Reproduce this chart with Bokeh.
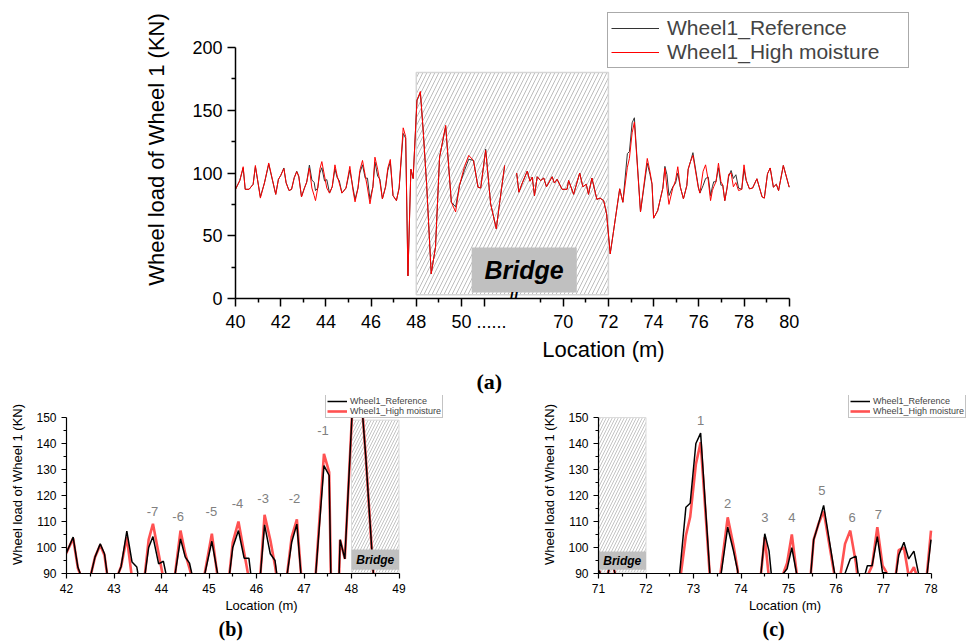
import numpy as np
from bokeh.plotting import figure
from bokeh.models import (Range1d, FixedTicker, CustomJSTickFormatter, Legend,
                          LegendItem, Label, Title)
from bokeh.layouts import column, row
from bokeh.embed import file_html
from bokeh.resources import INLINE

NAN = float("nan")

# ---------------- data (location in m, wheel load in kN) ----------------
location = [40.00, 40.19, 40.34, 40.43, 40.60, 40.78, 40.88, 41.10, 41.28, 41.47,
            41.78, 41.90, 42.00, 42.14, 42.24, 42.37, 42.48, 42.60, 42.71, 42.80,
            42.92, 43.05, 43.15, 43.27, 43.38, 43.48, 43.54, 43.64, 43.73, 43.82,
            43.94, 44.04, 44.16, 44.28, 44.40, 44.50, 44.59, 44.71, 44.89, 45.06,
            45.20, 45.29, 45.42, 45.50, 45.62, 45.74, 45.84, 45.95, 46.08, 46.17,
            46.29, 46.39, 46.50, 46.64, 46.74, 46.85, 46.97, 47.12, 47.24, 47.42,
            47.53, 47.63, 47.76, 47.86, 48.03, 48.18, 48.30, 48.46, 48.66, 48.85,
            49.03, 49.30, 49.55, 49.74, 49.91, 50.13, 50.32, 50.53, 50.73, 50.85,
            51.07, 51.29, 51.54, 51.70, 51.91, 60.00,
            67.94, 68.04, 68.19, 68.41, 68.53, 68.63, 68.73, 68.85, 69.00, 69.14,
            69.26, 69.51, 69.61, 69.73, 69.95, 70.17, 70.24, 70.46, 70.73, 70.87,
            71.02, 71.12, 71.27, 71.49, 71.63, 71.79, 71.92, 72.08, 72.21, 72.50,
            72.64, 72.84, 72.93, 73.05, 73.15, 73.42, 73.72, 73.84, 73.93, 74.00,
            74.18, 74.41, 74.50, 74.59, 74.68, 74.85, 74.97, 75.07, 75.18, 75.32,
            75.47, 75.53, 75.63, 75.74, 75.98, 76.05, 76.19, 76.30, 76.42, 76.52,
            76.60, 76.66, 76.76, 76.87, 76.98, 77.06, 77.15, 77.25, 77.32, 77.43,
            77.53, 77.64, 77.76, 77.90, 78.00, 78.10, 78.24, 78.38, 78.57, 78.80,
            78.90, 79.04, 79.16, 79.30, 79.43, 79.53, 79.74, 80.00]

wheel1_reference = [87, 94, 104, 87, 87, 91, 105, 81, 92, 107,
                    83, 95, 98, 104, 92.4, 86, 87, 96.3, 101.4, 97.6,
                    81, 88, 92.7, 106.3, 94.4, 92.5, 86, 88, 100, 104.2,
                    93.7, 94.7, 84, 89, 103.3, 96.3, 94, 84, 88, 102.4,
                    88, 79, 88, 100, 106.5, 95.9, 95.9, 79, 89, 108.7,
                    97.6, 95, 79.4, 89, 102, 109, 82, 78, 88, 131.5,
                    127.7, 18, 103, 95.6, 158, 164, 135, 90, 19.7, 41,
                    112.6, 137, 76.8, 73, 90, 102, 111, 110, 88.7, 88,
                    119, 75.4, 55.5, 78, 106, NAN,
                    100, 84.7, 92, 101.5, 93.5, 96.7, 82, 97, 94, 96,
                    89, 97, 92, 95, 87, 87, 94, 83, 100, 89,
                    91, 83, 96, 79, 80, 78, 67.5, 35.6, 51.5, 87.4,
                    76.7, 115.5, 117, 140, 144, 69, 107.8, 98.8, 91, 64,
                    70, 88, 105.3, 98.7, 82, 89, 91.8, 99.9, 89, 79.4,
                    90, 103, 109, 116.2, 89, 84, 90, 95.6, 96.7, 82,
                    89, 93, 93, 104.2, 90.3, 90.3, 78, 88, 97, 102,
                    95.6, 98.6, 88, 87, 103, 94, 87.4, 88, 95.4, 81,
                    80, 99.4, 104, 88.7, 91, 86, 106, 88.7]

wheel1_high_moisture = [87, 94, 105, 87, 87, 91, 106, 80, 92, 108,
                        83, 95, 98, 103.5, 92, 86, 87, 96.3, 101, 97,
                        81, 88, 92.7, 104, 88, 82, 78, 88, 103, 109.1,
                        97.6, 88, 84, 89, 106.5, 97.6, 92, 84, 88, 105.3,
                        86, 77, 88, 102, 110, 98, 88, 75.4, 89, 112.6,
                        103, 93, 79.4, 89, 104, 110.8, 82, 78, 88, 136,
                        129, 18, 103, 95.6, 158, 165, 135, 90, 19.7, 41,
                        112.6, 138, 76.8, 69, 90, 105, 114, 110, 88.7, 88,
                        118, 75.4, 55.5, 78, 106, NAN,
                        100, 84.7, 92, 101.5, 93.5, 96.7, 82, 97, 94, 96,
                        89, 97, 92, 95, 87, 87, 94, 83, 100, 89,
                        91, 83, 96, 79, 80, 78, 67.5, 35.6, 51.5, 87.4,
                        76.7, 104.6, 111.7, 132, 140.5, 69, 111.6, 101, 91.5, 64,
                        70, 88, 104, 88, 75, 88, 94, 105, 89, 79.4,
                        90, 103, 109, 114, 88, 84, 101.4, 106.5, 94, 78,
                        86, 89, 93, 107.8, 93, 90.5, 78, 88, 99, 100,
                        89, 92.4, 86, 87, 106.5, 94, 87.4, 88, 95.4, 81,
                        80, 99.4, 104, 88.7, 91, 86, 106, 88.7]

# axis ticks (real locations)
a_major_x = [40, 42, 44, 46, 48, 50, 70, 72, 74, 76, 78, 80]
a_minor_x = [41, 43, 45, 47, 49, 51, 69, 71, 73, 75, 77, 79]
a_major_y = [0, 50, 100, 150, 200]
a_minor_y = [25, 75, 125, 175]

# peak annotations of the zoomed panels (label, x, y)
b_peak_labels = ["-7", "-6", "-5", "-4", "-3", "-2", "-1"]
b_peak_x = [43.81, 44.35, 45.05, 45.60, 46.14, 46.80, 47.40]
b_peak_y = [114, 112, 113.8, 117, 119, 119, 145]
c_peak_labels = ["1", "2", "3", "4", "5", "6", "7"]
c_peak_x = [73.15, 73.72, 74.50, 75.07, 75.70, 76.34, 76.89]
c_peak_y = [148.8, 117, 111.5, 111.5, 122, 111.5, 112.7]

# ---------------- axis break for panel (a) ----------------
BREAK_SHIFT = 15.5     # real 67.5.. is drawn right after 52
BREAK_AT = 52.3        # axis position of the break mark
DOTS_AT = 51           # tick that carries the "......" break label


def to_axis(x):
    return x if x < 60 else x - BREAK_SHIFT


loc = np.array(location, dtype=float)
ref = np.array(wheel1_reference, dtype=float)
hm = np.array(wheel1_high_moisture, dtype=float)
loc_axis = np.array([to_axis(v) for v in location], dtype=float)

FONT = "Liberation Sans"
SERIF = "Liberation Serif"


def style_axes(p, tick_font, label_font, tick_out, minor_out, lw):
    for ax in (p.xaxis[0], p.yaxis[0]):
        ax.axis_line_width = lw
        ax.major_tick_line_width = lw
        ax.minor_tick_line_width = lw
        ax.major_tick_in = 0
        ax.major_tick_out = tick_out
        ax.minor_tick_in = 0
        ax.minor_tick_out = minor_out
        ax.major_label_text_font = FONT
        ax.major_label_text_font_size = tick_font
        ax.major_label_text_color = "black"
        ax.axis_label_text_font = FONT
        ax.axis_label_text_font_size = label_font
        ax.axis_label_text_font_style = "normal"
        ax.axis_label_text_color = "black"
    p.xgrid.visible = False
    p.ygrid.visible = False
    p.outline_line_color = None


# ======================= panel (a) =======================
# frame reaches up/right past the axes so that the legend lies inside it
A_LEFT, A_BOTTOM = 235, 97
A_PX_PER_X = 22.6
A_PX_PER_Y = 1.255
a_x_end = 40 + (971 - A_LEFT) / A_PX_PER_X
a_y_top = 200 + 47 / A_PX_PER_Y

pa = figure(width=971, height=395, output_backend="svg", toolbar_location=None,
            x_range=Range1d(40, a_x_end), y_range=Range1d(0, a_y_top),
            min_border_left=A_LEFT, min_border_right=0, min_border_top=0,
            min_border_bottom=A_BOTTOM)
pa.background_fill_color = "white"
pa.border_fill_color = "white"

pa.quad(left=48, right=to_axis(72), bottom=3, top=180, fill_color="white",
        hatch_pattern="/", hatch_color="#bdbdbd", hatch_scale=8, hatch_weight=1,
        line_color="#d6d6d6", line_width=1.5)

r_ref_a = pa.line(loc_axis, ref, line_color="#333333", line_width=1)
r_hm_a = pa.line(loc_axis, hm, line_color="#ff0000", line_width=1)

pa.quad(left=50.45, right=55.1, bottom=4.8, top=40.6, fill_color="#c0c0c0",
        line_color=None)
pa.add_layout(Label(x=52.77, y=22.5, text="Bridge", text_align="center",
                    text_baseline="middle", text_font=FONT,
                    text_font_style="bold italic", text_font_size="25px",
                    text_color="black"))

major_axis = [to_axis(v) for v in a_major_x] + [DOTS_AT]
minor_axis = [to_axis(v) for v in a_minor_x if v != DOTS_AT]
pa.xaxis[0].ticker = FixedTicker(ticks=major_axis, minor_ticks=minor_axis)
pa.xaxis[0].formatter = CustomJSTickFormatter(
    args=dict(shift=BREAK_SHIFT, brk=BREAK_AT, dots=DOTS_AT),
    code=("if (Math.abs(tick - dots) < 1e-6) return '\\u00a0\\u00a0\\u00a0......';"
          "return (tick > brk ? tick + shift : tick).toFixed(0);"))
pa.xaxis[0].bounds = (40, to_axis(80))
pa.yaxis[0].ticker = FixedTicker(ticks=a_major_y, minor_ticks=a_minor_y)
pa.yaxis[0].bounds = (0, 200)
pa.xaxis[0].axis_label = "Location (m)"
pa.yaxis[0].axis_label = "Wheel load of Wheel 1 (KN)"
style_axes(pa, "18px", "22px", 8, 4, 1.5)
pa.yaxis[0].axis_label_standoff = 20
pa.xaxis[0].axis_label_standoff = 2

pa.add_layout(Label(x=BREAK_AT, y=0, text="//", text_align="center",
                    text_baseline="middle", text_font=FONT,
                    text_font_size="16px", text_font_style="bold",
                    text_color="black"))
pa.add_layout(Title(text="(a)", align="left", offset=241, text_font=SERIF,
                    text_font_size="22px", text_font_style="bold",
                    text_color="black", standoff=4), "below")

leg_a = Legend(items=[LegendItem(label="Wheel1_Reference", renderers=[r_ref_a]),
                      LegendItem(label="Wheel1_High moisture", renderers=[r_hm_a])],
               location=(372, 230), orientation="vertical",
               label_text_font=FONT, label_text_font_size="21px",
               glyph_width=48, glyph_height=22, label_height=22, label_width=238,
               padding=3, spacing=0, label_standoff=8, margin=0,
               border_line_color="#555555", border_line_width=1,
               background_fill_color="white", background_fill_alpha=1)
pa.add_layout(leg_a)


# ======================= panels (b) and (c) =======================
def zoom_panel(width, x0, x1, left, right_px, hatch_x, hatch_y, box_y,
               labels, lx, ly, tag, tag_offset, legend_x):
    px_per_x = 47.5
    px_per_y = 2.6
    x_end = x0 + (width - left - right_px) / px_per_x
    y_top = 150 + 22 / px_per_y
    keep = (loc >= x0 - 0.3) & (loc <= x1)
    p = figure(width=width, height=246, output_backend="svg",
               toolbar_location=None, x_range=Range1d(x0, x_end),
               y_range=Range1d(90, y_top), min_border_left=left,
               min_border_right=right_px, min_border_top=0, min_border_bottom=68)
    p.background_fill_color = "white"
    p.border_fill_color = "white"
    p.quad(left=hatch_x[0], right=hatch_x[1], bottom=hatch_y[0], top=hatch_y[1],
           fill_color="white", hatch_pattern="/", hatch_color="#c4c4c4",
           hatch_scale=6, hatch_weight=1, line_color="#dcdcdc", line_width=1)
    r_hm = p.line(loc[keep], hm[keep], line_color="#ff5252", line_width=2.6)
    r_ref = p.line(loc[keep], ref[keep], line_color="#000000", line_width=1.5)
    p.quad(left=hatch_x[0], right=hatch_x[1], bottom=box_y[0], top=box_y[1],
           fill_color="#c0c0c0", line_color=None)
    p.add_layout(Label(x=(hatch_x[0] + hatch_x[1]) / 2,
                       y=(box_y[0] + box_y[1]) / 2, text="Bridge",
                       text_align="center", text_baseline="middle",
                       text_font=FONT, text_font_style="bold italic",
                       text_font_size="12px", text_color="black"))
    for t, x, y in zip(labels, lx, ly):
        p.add_layout(Label(x=x, y=y, text=t, text_align="center",
                           text_baseline="middle", text_font=FONT,
                           text_font_size="13px", text_color="#808080"))
    p.xaxis[0].ticker = FixedTicker(
        ticks=list(range(int(x0), int(x1) + 1)),
        minor_ticks=[v + 0.5 for v in range(int(x0), int(x1))])
    p.xaxis[0].bounds = (x0, x1)
    p.yaxis[0].ticker = FixedTicker(ticks=[90, 100, 110, 120, 130, 140, 150],
                                    minor_ticks=[95, 105, 115, 125, 135, 145])
    p.yaxis[0].bounds = (90, 150)
    p.xaxis[0].axis_label = "Location (m)"
    p.yaxis[0].axis_label = "Wheel load of Wheel 1 (KN)"
    style_axes(p, "12px", "13px", 5, 3, 1.2)
    p.xaxis[0].axis_label_standoff = 2
    p.yaxis[0].axis_label_standoff = 8
    leg = Legend(items=[LegendItem(label="Wheel1_Reference", renderers=[r_ref]),
                        LegendItem(label="Wheel1_High moisture", renderers=[r_hm])],
                 location=(legend_x, 155), orientation="vertical",
                 label_text_font=FONT, label_text_font_size="9px",
                 glyph_width=20, glyph_height=10, label_height=10,
                 padding=1, spacing=0, label_standoff=3, margin=0,
                 border_line_color="#888888", border_line_width=1,
                 background_fill_color="white", background_fill_alpha=1)
    p.add_layout(leg)
    p.add_layout(Title(text=tag, align="left", offset=tag_offset, text_font=SERIF,
                       text_font_size="20px", text_font_style="bold",
                       text_color="black", standoff=0), "below")
    return p


pb = zoom_panel(486, 42, 49, 66, 30, (48, 49), (90.3, 149), (91.4, 99.2),
                b_peak_labels, b_peak_x, b_peak_y, "(b)", 152, 259)
pc = zoom_panel(485, 71, 78, 112, 0, (71, 72), (90.5, 150), (91.4, 98.5),
                c_peak_labels, c_peak_x, c_peak_y, "(c)", 164, 250)

layout = column(pa, row(pb, pc))
with open("out.html", "w") as f:
    f.write(file_html(layout, INLINE))
